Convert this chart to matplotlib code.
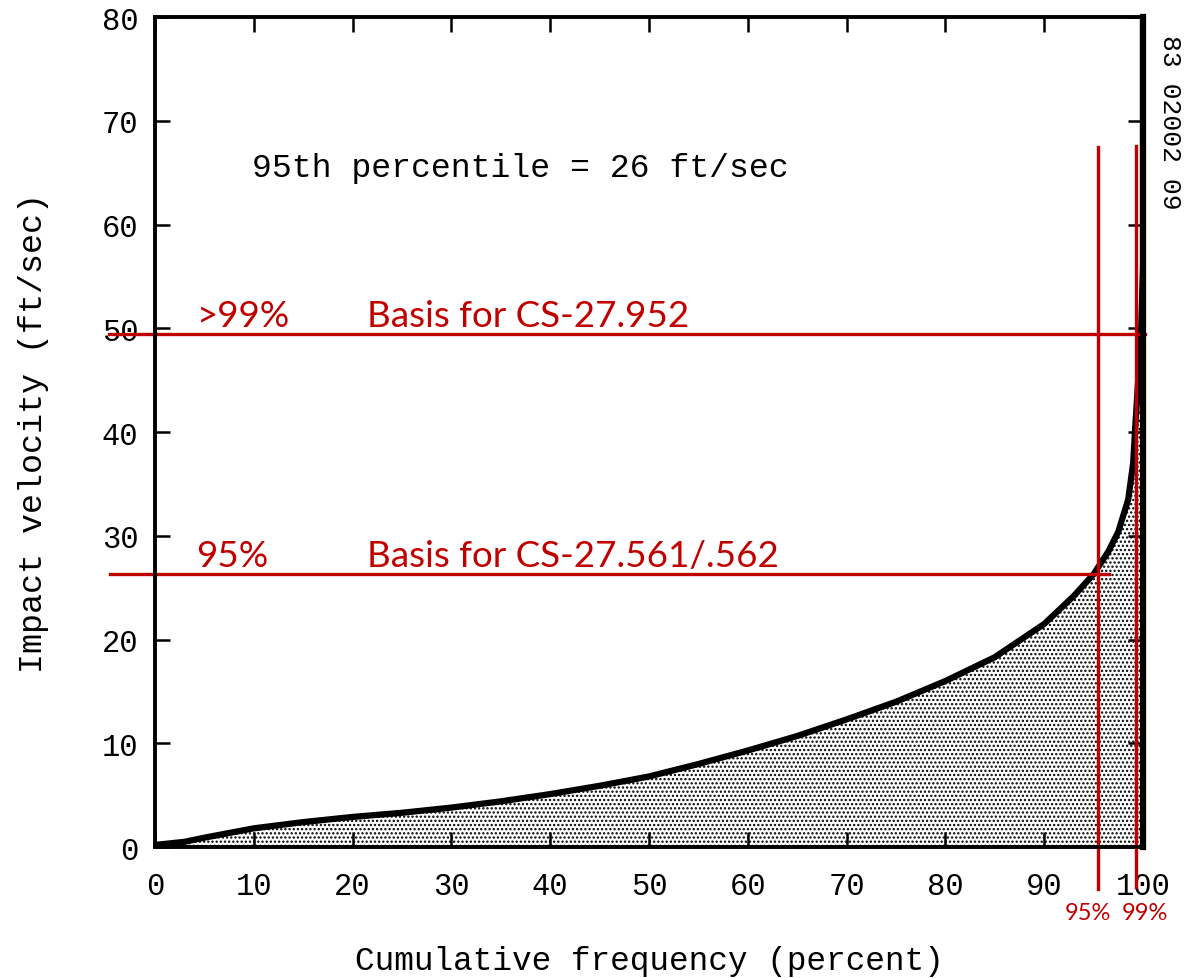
import numpy as np
import matplotlib.pyplot as plt

# Cumulative frequency curve
freq = [0, 3, 5, 10, 15, 20, 25, 30, 35, 40, 45, 50, 55, 60, 65, 70, 75, 80,
        85, 90, 93, 95, 96.5, 97.5, 98.5, 99.0, 99.2, 99.6, 99.8, 100, 100]
velocity = [0.2, 0.5, 0.9, 1.8, 2.4, 2.9, 3.3, 3.8, 4.4, 5.1, 5.9, 6.8, 8.0, 9.3,
            10.7, 12.3, 14.0, 16.0, 18.3, 21.5, 24.2, 26.3, 28.5, 30.4, 33.5,
            37.0, 40.3, 46.4, 49.6, 56.0, 80.0]

xticks = list(range(0, 101, 10))
yticks = list(range(0, 81, 10))

# annotation values
v95 = 26.3
v99 = 49.4
p95 = 95.4
p99 = 99.3

red = '#C00000'
mono = 'Liberation Mono'
sans = ['Lato', 'DejaVu Sans']

plt.rcParams['hatch.linewidth'] = 1.1

fig = plt.figure(figsize=(11.84, 9.79), dpi=100)
ax = fig.add_axes([0.1309, 0.1338, 0.8345, 0.8478])

ax.fill_between(freq, velocity, 0, facecolor='white', edgecolor='black',
                hatch='....', linewidth=0)
ax.plot(freq, velocity, color='black', lw=4.5, solid_capstyle='round',
        solid_joinstyle='round')

ax.set_xlim(0, 100)
ax.set_ylim(0, 80)
ax.set_xticks(xticks)
ax.set_yticks(yticks)
ax.tick_params(direction='in', length=11, width=1.8, top=True, right=True,
               labelsize=22)
ax.tick_params(axis='x', pad=17)
ax.tick_params(axis='y', pad=12)
for lab in ax.get_xticklabels() + ax.get_yticklabels():
    lab.set_family(mono)
for side in ['left', 'top', 'bottom']:
    ax.spines[side].set_linewidth(2.8)
ax.spines['right'].set_linewidth(4.5)

ax.set_xlabel('Cumulative frequency (percent)', family=mono, fontsize=23.6, labelpad=32)
ax.set_ylabel('Impact velocity (ft/sec)', family=mono, fontsize=24, labelpad=38)

ax.text(9.8, 65.5, '95th percentile = 26 ft/sec', family=mono, fontsize=23.9,
        va='center')
fig.text(0.988, 0.875, '83 02002 09', family=mono, fontsize=19,
         rotation=-90, va='center', ha='center')

# red overlay lines
ax.plot([-4.7, 100.2], [v99, v99], color=red, lw=2.4, clip_on=False)
ax.plot([-4.6, 96.6], [v95, v95], color=red, lw=2.4, clip_on=False)
ax.plot([p95, p95], [-4.0, 67.5], color=red, lw=2.4, clip_on=False)
ax.plot([p99, p99], [-3.9, 67.6], color=red, lw=2.4, clip_on=False)

ax.text(4.2, v99 + 0.8, '>99%', color=red, family=sans, fontsize=26.5)
ax.text(21.5, v99 + 0.8, 'Basis for CS-27.952', color=red, family=sans, fontsize=26.5)
ax.text(4.2, v95 + 0.8, '95%', color=red, family=sans, fontsize=26.5)
ax.text(21.5, v95 + 0.8, 'Basis for CS-27.561/.562', color=red, family=sans, fontsize=26.5)
ax.text(94.4, -6.3, '95%', color=red, family=sans, fontsize=17, ha='center', va='center')
ax.text(100.2, -6.3, '99%', color=red, family=sans, fontsize=17, ha='center', va='center')

fig.savefig('out.png', dpi=100)
